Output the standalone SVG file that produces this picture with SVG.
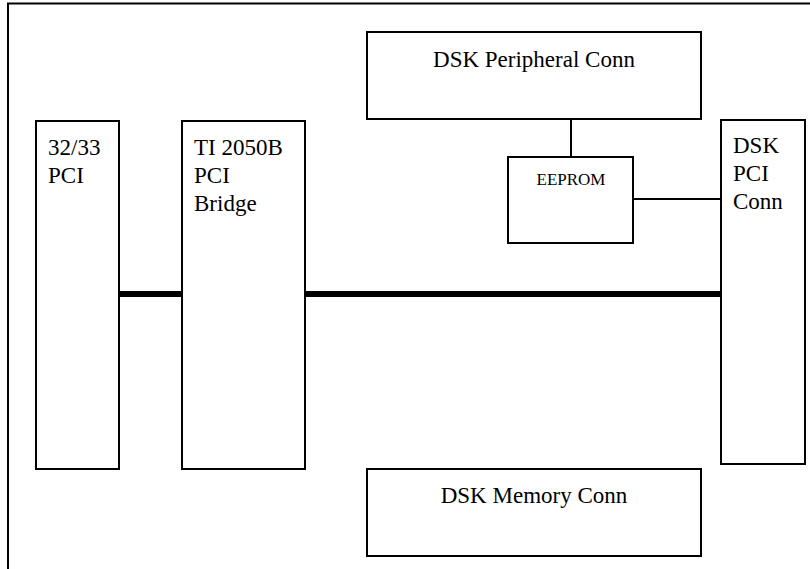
<svg xmlns="http://www.w3.org/2000/svg" width="810" height="569" viewBox="0 0 810 569">
<style>
.box{fill:#fff;stroke:#000;stroke-width:2}
text{font-family:'Liberation Serif','Times New Roman',Tinos,'Nimbus Roman','DejaVu Serif',serif;font-size:23px;fill:#000}
.s{font-size:17px}
.bus{stroke:#000;stroke-width:6;stroke-linecap:round;fill:none}
.wire{stroke:#000;stroke-width:2;fill:none}
</style>
<rect x="0" y="0" width="810" height="569" fill="#fff"/>
<rect x="8" y="3.5" width="820" height="600" fill="none" stroke="#000" stroke-width="2"/>
<g id="connectors">
<line class="bus" x1="119" y1="294" x2="182" y2="294"/>
<line class="bus" x1="305" y1="294" x2="722" y2="294"/>
<line class="wire" x1="571" y1="119" x2="571" y2="157"/>
<line class="wire" x1="633" y1="199" x2="721" y2="199"/>
</g>
<g id="pci">
<rect class="box" x="36" y="121" width="83" height="348"/>
<text x="48" y="155">32/33</text>
<text x="48" y="183">PCI</text>
</g>
<g id="bridge">
<rect class="box" x="182" y="121" width="123" height="348"/>
<text x="194" y="155">TI 2050B</text>
<text x="194" y="183">PCI</text>
<text x="194" y="211">Bridge</text>
</g>
<g id="peripheral">
<rect class="box" x="367" y="32" width="334" height="87"/>
<text x="534" y="67" text-anchor="middle">DSK Peripheral Conn</text>
</g>
<g id="eeprom">
<rect class="box" x="508" y="157" width="125" height="86"/>
<text class="s" x="571" y="185" text-anchor="middle">EEPROM</text>
</g>
<g id="dskpci">
<rect class="box" x="721" y="120" width="84" height="344"/>
<text x="733" y="153">DSK</text>
<text x="733" y="181">PCI</text>
<text x="733" y="209">Conn</text>
</g>
<g id="memory">
<rect class="box" x="367" y="469" width="334" height="87"/>
<text x="534" y="503" text-anchor="middle">DSK Memory Conn</text>
</g>
</svg>
